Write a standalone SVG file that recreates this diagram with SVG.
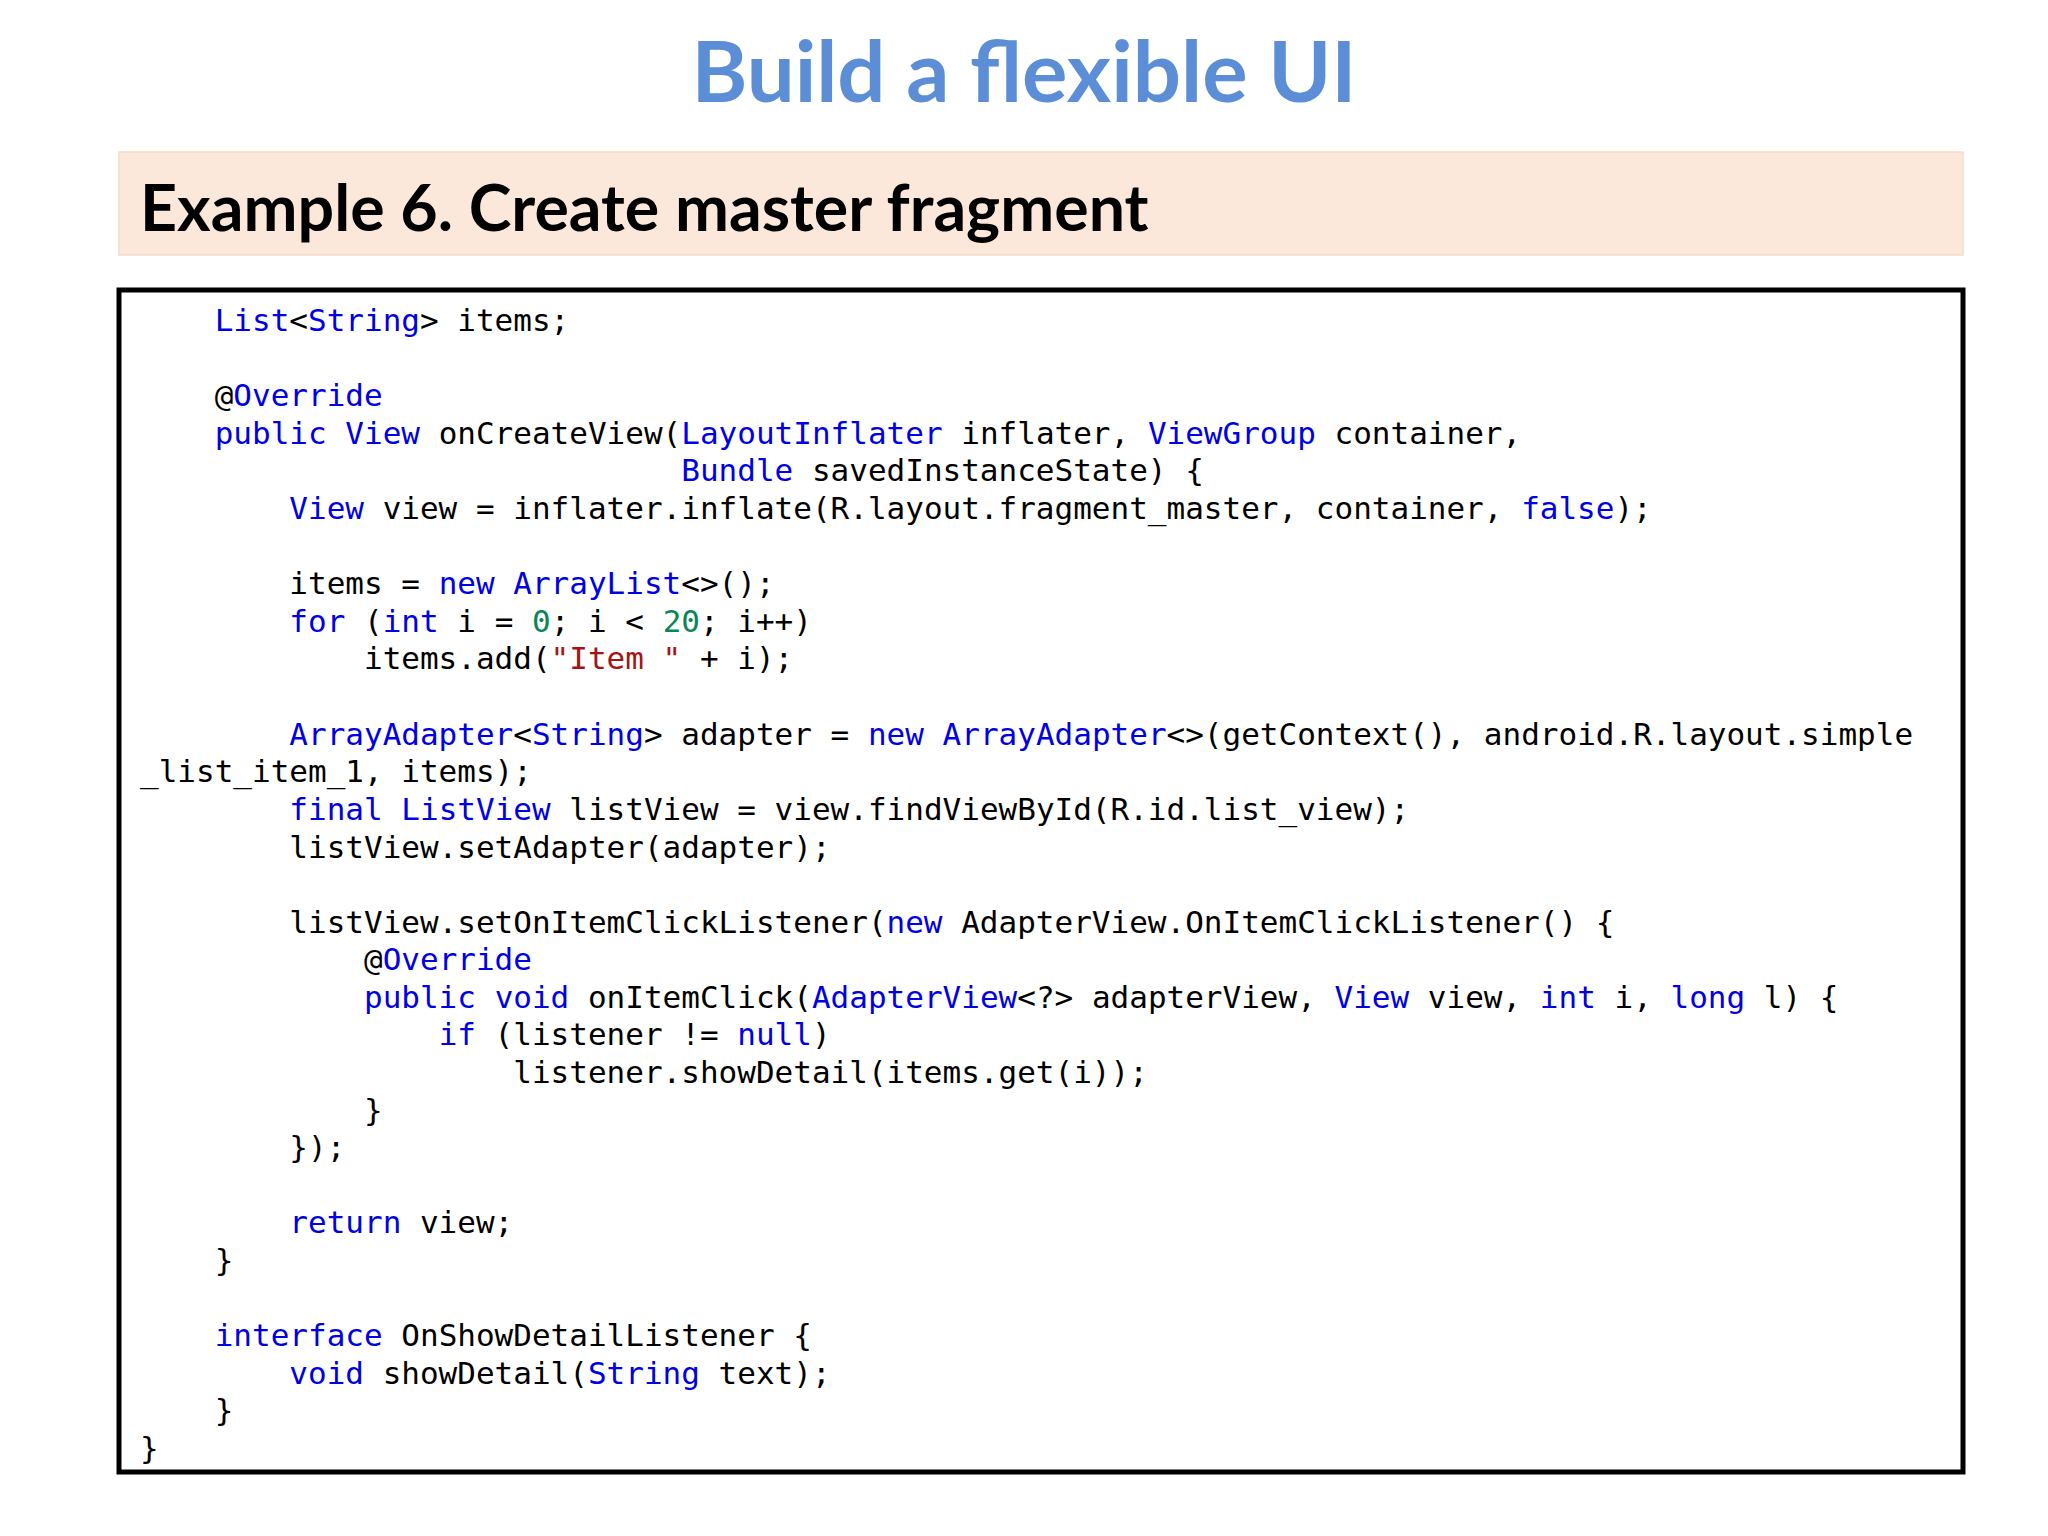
<svg xmlns="http://www.w3.org/2000/svg" width="2048" height="1536" viewBox="0 0 2048 1536">
<style>
.c text{font-family:"DejaVu Sans Mono","Liberation Mono",monospace;font-size:31px;fill:#000;white-space:pre}
.k{fill:#0000E6}.n{fill:#098658}.s{fill:#A31515}
</style>
<rect width="2048" height="1536" fill="#fff"/>
<g id="title"><text x="1024" y="102" text-anchor="middle" font-family="Lato,'Open Sans',sans-serif" font-weight="bold" font-size="85" fill="#5B8ED6">Build a flexible UI</text></g>
<g id="header"><rect x="119" y="152" width="1844" height="103" fill="#FCE8DA" stroke="#F3DCCB" stroke-width="1.5"/>
<text x="140" y="231" font-family="Lato,'Open Sans',sans-serif" font-weight="bold" font-size="64.5" fill="#000">Example 6. Create master fragment</text></g>
<g id="code"><rect x="119" y="290" width="1844" height="1182" fill="#fff" stroke="#000" stroke-width="5"/>
<g class="c">
<text xml:space="preserve" x="140" y="331">    <tspan class="k">List</tspan>&lt;<tspan class="k">String</tspan>&gt; items;</text>
<text xml:space="preserve" x="140" y="406">    @<tspan class="k">Override</tspan></text>
<text xml:space="preserve" x="140" y="444">    <tspan class="k">public</tspan> <tspan class="k">View</tspan> onCreateView(<tspan class="k">LayoutInflater</tspan> inflater, <tspan class="k">ViewGroup</tspan> container,</text>
<text xml:space="preserve" x="140" y="481">                             <tspan class="k">Bundle</tspan> savedInstanceState) {</text>
<text xml:space="preserve" x="140" y="519">        <tspan class="k">View</tspan> view = inflater.inflate(R.layout.fragment_master, container, <tspan class="k">false</tspan>);</text>
<text xml:space="preserve" x="140" y="594">        items = <tspan class="k">new</tspan> <tspan class="k">ArrayList</tspan>&lt;&gt;();</text>
<text xml:space="preserve" x="140" y="632">        <tspan class="k">for</tspan> (<tspan class="k">int</tspan> i = <tspan class="n">0</tspan>; i &lt; <tspan class="n">20</tspan>; i++)</text>
<text xml:space="preserve" x="140" y="669">            items.add(<tspan class="s">"Item "</tspan> + i);</text>
<text xml:space="preserve" x="140" y="745">        <tspan class="k">ArrayAdapter</tspan>&lt;<tspan class="k">String</tspan>&gt; adapter = <tspan class="k">new</tspan> <tspan class="k">ArrayAdapter</tspan>&lt;&gt;(getContext(), android.R.layout.simple</text>
<text xml:space="preserve" x="140" y="782">_list_item_1, items);</text>
<text xml:space="preserve" x="140" y="820">        <tspan class="k">final</tspan> <tspan class="k">ListView</tspan> listView = view.findViewById(R.id.list_view);</text>
<text xml:space="preserve" x="140" y="858">        listView.setAdapter(adapter);</text>
<text xml:space="preserve" x="140" y="933">        listView.setOnItemClickListener(<tspan class="k">new</tspan> AdapterView.OnItemClickListener() {</text>
<text xml:space="preserve" x="140" y="970">            @<tspan class="k">Override</tspan></text>
<text xml:space="preserve" x="140" y="1008">            <tspan class="k">public</tspan> <tspan class="k">void</tspan> onItemClick(<tspan class="k">AdapterView</tspan>&lt;?&gt; adapterView, <tspan class="k">View</tspan> view, <tspan class="k">int</tspan> i, <tspan class="k">long</tspan> l) {</text>
<text xml:space="preserve" x="140" y="1045">                <tspan class="k">if</tspan> (listener != <tspan class="k">null</tspan>)</text>
<text xml:space="preserve" x="140" y="1083">                    listener.showDetail(items.get(i));</text>
<text xml:space="preserve" x="140" y="1121">            }</text>
<text xml:space="preserve" x="140" y="1158">        });</text>
<text xml:space="preserve" x="140" y="1233">        <tspan class="k">return</tspan> view;</text>
<text xml:space="preserve" x="140" y="1271">    }</text>
<text xml:space="preserve" x="140" y="1346">    <tspan class="k">interface</tspan> OnShowDetailListener {</text>
<text xml:space="preserve" x="140" y="1384">        <tspan class="k">void</tspan> showDetail(<tspan class="k">String</tspan> text);</text>
<text xml:space="preserve" x="140" y="1421">    }</text>
<text xml:space="preserve" x="140" y="1459">}</text>
</g></g>
</svg>
